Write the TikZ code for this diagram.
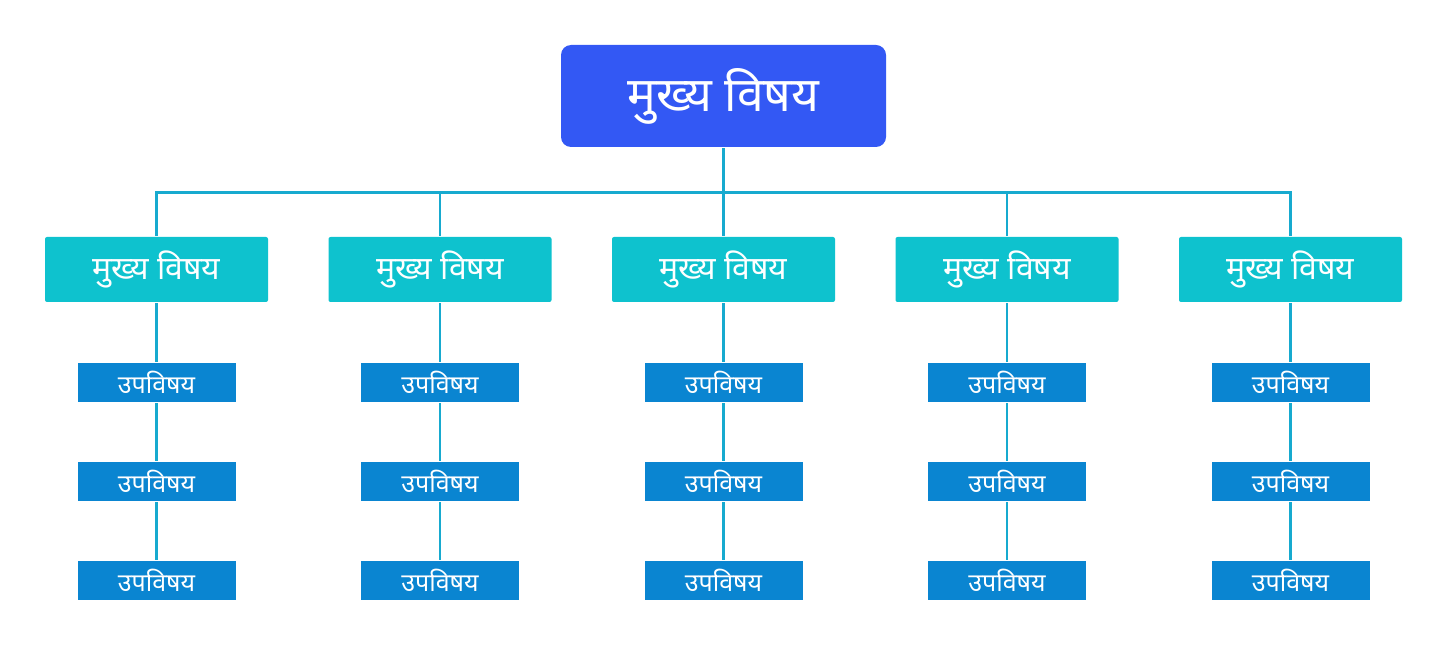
\documentclass[tikz,border=0pt]{standalone}
\usepackage{fontspec}
\newfontfamily\deva[Script=Devanagari]{Noto Sans}
\usetikzlibrary{positioning}
\definecolor{rootblue}{HTML}{3358F4}
\definecolor{topicteal}{HTML}{0EC2CE}
\definecolor{subblue}{HTML}{0A85D1}
\definecolor{linkcyan}{HTML}{17AACF}

\begin{document}
\begin{tikzpicture}[x=1pt,y=-1pt,line width=2.6pt,
                    main node/.style={rectangle,fill=rootblue,rounded corners=10pt,text=white,
                                      minimum width=325pt,minimum height=102pt,font=\deva\fontsize{48}{52}\selectfont},
                    topic node/.style={rectangle,fill=topicteal,rounded corners=2pt,text=white,
                                       minimum width=223pt,minimum height=65pt,font=\deva\fontsize{32}{36}\selectfont},
                    sub node/.style={rectangle,fill=subblue,text=white,inner sep=0pt,
                                     minimum width=158pt,minimum height=39pt,font=\deva\fontsize{25}{28}\selectfont},
                    link/.style={draw=linkcyan,line width=2.6pt}]
  \useasboundingbox (0,0) rectangle (1448,660);

  \node[main node] (root) at (723.5,96) {मुख्य विषय};
  \coordinate[below=44pt of root.south] (bus);

  \foreach \x [count=\i] in {156.5,440,723.5,1007,1290.5}{
    \node[topic node] (t\i) at (\x,269.5) {मुख्य विषय};
    \node[sub node] (s\i1) at (\x,382.5) {उपविषय};
    \node[sub node] (s\i2) at (\x,481.5) {उपविषय};
    \node[sub node] (s\i3) at (\x,580.5) {उपविषय};
    \path[link] (bus) -| (t\i.north)
                (t\i) edge (s\i1)
                (s\i1) edge (s\i2)
                (s\i2) edge (s\i3);
  }
  \path[link] (root) -- (bus);
\end{tikzpicture}
\end{document}
